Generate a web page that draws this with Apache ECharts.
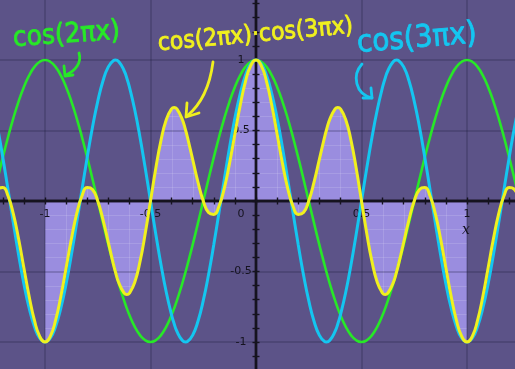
<!DOCTYPE html>
<html>
<head>
<meta charset="utf-8">
<script src="https://cdn.jsdelivr.net/npm/echarts@6/dist/echarts.min.js"></script>
<style>html,body{margin:0;padding:0;background:#5c5388;}#c{width:515px;height:369px;}</style>
</head>
<body>
<div id="c"></div>
<script>
// x positions (step 0.025, plus the extremum points of the curves)
var xs = [-1.25,-1.225,-1.2,-1.175,-1.15,-1.125,-1.1,-1.075,-1.05,-1.025,
-1,-0.975,-0.95,-0.925,-0.9,-0.875,-0.85,-0.825,-0.8,-0.775,
-0.75,-0.725,-0.7,-0.675,-0.6667,-0.65,-0.625,-0.6121,-0.6,-0.575,-0.55,-0.525,
-0.5,-0.475,-0.45,-0.425,-0.4,-0.3879,-0.375,-0.35,-0.3333,-0.325,-0.3,-0.275,
-0.25,-0.225,-0.2,-0.175,-0.15,-0.125,-0.1,-0.075,-0.05,-0.025,
0,0.025,0.05,0.075,0.1,0.125,0.15,0.175,0.2,0.225,
0.25,0.275,0.3,0.325,0.3333,0.35,0.375,0.3879,0.4,0.425,0.45,0.475,
0.5,0.525,0.55,0.575,0.6,0.6121,0.625,0.65,0.6667,0.675,0.7,0.725,
0.75,0.775,0.8,0.825,0.85,0.875,0.9,0.925,0.95,0.975,
1,1.025,1.05,1.075,1.1,1.125,1.15,1.175,1.2,1.225,1.25];

// cos(2πx)
var cos2 = [0,.1564,.309,.454,.5878,.7071,.809,.891,.9511,.9877,
1,.9877,.9511,.891,.809,.7071,.5878,.454,.309,.1564,
0,-.1564,-.309,-.454,-.5,-.5878,-.7071,-.7617,-.809,-.891,-.9511,-.9877,
-1,-.9877,-.9511,-.891,-.809,-.7617,-.7071,-.5878,-.5,-.454,-.309,-.1564,
0,.1564,.309,.454,.5878,.7071,.809,.891,.9511,.9877,
1,.9877,.9511,.891,.809,.7071,.5878,.454,.309,.1564,
0,-.1564,-.309,-.454,-.5,-.5878,-.7071,-.7617,-.809,-.891,-.9511,-.9877,
-1,-.9877,-.9511,-.891,-.809,-.7617,-.7071,-.5878,-.5,-.454,-.309,-.1564,
0,.1564,.309,.454,.5878,.7071,.809,.891,.9511,.9877,
1,.9877,.9511,.891,.809,.7071,.5878,.454,.309,.1564,0];

// cos(3πx)
var cos3 = [.7071,.5225,.309,.0785,-.1564,-.3827,-.5878,-.7604,-.891,-.9724,
-1,-.9724,-.891,-.7604,-.5878,-.3827,-.1564,.0785,.309,.5225,
.7071,.8526,.9511,.9969,1,.9877,.9239,.8707,.809,.6494,.454,.2334,
0,-.2334,-.454,-.6494,-.809,-.8707,-.9239,-.9877,-1,-.9969,-.9511,-.8526,
-.7071,-.5225,-.309,-.0785,.1564,.3827,.5878,.7604,.891,.9724,
1,.9724,.891,.7604,.5878,.3827,.1564,-.0785,-.309,-.5225,
-.7071,-.8526,-.9511,-.9969,-1,-.9877,-.9239,-.8707,-.809,-.6494,-.454,-.2334,
0,.2334,.454,.6494,.809,.8707,.9239,.9877,1,.9969,.9511,.8526,
.7071,.5225,.309,.0785,-.1564,-.3827,-.5878,-.7604,-.891,-.9724,
-1,-.9724,-.891,-.7604,-.5878,-.3827,-.1564,.0785,.309,.5225,.7071];

// cos(2πx)·cos(3πx)
var prod = [0,.0817,.0955,.0356,-.0919,-.2706,-.4755,-.6775,-.8474,-.9604,
-1,-.9604,-.8474,-.6775,-.4755,-.2706,-.0919,.0356,.0955,.0817,
0,-.1333,-.2939,-.4526,-.5,-.5806,-.6533,-.6632,-.6545,-.5786,-.4318,-.2305,
0,.2305,.4318,.5786,.6545,.6632,.6533,.5806,.5,.4526,.2939,.1333,
0,-.0817,-.0955,-.0356,.0919,.2706,.4755,.6775,.8474,.9604,
1,.9604,.8474,.6775,.4755,.2706,.0919,-.0356,-.0955,-.0817,
0,.1333,.2939,.4526,.5,.5806,.6533,.6632,.6545,.5786,.4318,.2305,
0,-.2305,-.4318,-.5786,-.6545,-.6632,-.6533,-.5806,-.5,-.4526,-.2939,-.1333,
0,.0817,.0955,.0356,-.0919,-.2706,-.4755,-.6775,-.8474,-.9604,
-1,-.9604,-.8474,-.6775,-.4755,-.2706,-.0919,.0356,.0955,.0817,0];

var shadeFrom = -1, shadeTo = 1;
var xTickLabels = ['-1','-0.5','0','0.5','1'];
var yTickLabels = ['-1','-0.5','0.5','1'];
var minorStep = 0.1;

function pairs(ys){ return xs.map(function(x,i){ return [x, ys[i]]; }); }
var shadeData = pairs(prod).filter(function(p){ return p[0] >= shadeFrom && p[0] <= shadeTo; });

var AX = '#15131f';
var labelFont = '"DejaVu Sans", sans-serif';
function fmtNum(v){ return String(Math.round(v*10)/10); }

// grid: axis range -1.5..1.5 both ways, extending beyond the canvas
var G = {left:-60.5, right:-57.5, top:-10.5, bottom:-43.5};
var gridW = 515 - G.left - G.right, gridH = 369 - G.top - G.bottom;
var xZeroFromBottom = gridH / 2, yZeroFromLeft = gridW / 2;

var axisCommon = {
  type:'value', min:-1.5, max:1.5, interval:0.5, z:1.5,
  axisTick:{show:true, length:3.5, lineStyle:{color:AX, width:1.4}},
  minorTick:{show:true, splitNumber:5, length:3.5, lineStyle:{color:AX, width:1.4}},
  minorSplitLine:{show:false}
};

var chart = echarts.init(document.getElementById('c'), null, {renderer:'canvas'});
chart.setOption({
  animation:false,
  backgroundColor:'#5c5388',
  grid:{left:G.left, right:G.right, top:G.top, bottom:G.bottom, containLabel:false, outerBoundsMode:'none'},
  xAxis:[
    Object.assign({}, axisCommon, {
      position:'bottom', offset:-xZeroFromBottom,
      axisLine:{show:true, onZero:false, lineStyle:{color:AX, width:2.4}},
      splitLine:{show:true, lineStyle:{color:'rgba(30,25,60,0.3)', width:1.5}},
      axisLabel:{show:true, margin:8, color:AX, fontSize:11, fontFamily:labelFont,
        formatter:function(v){ var s=fmtNum(v); if(s==='0') return '{o|0}'; return xTickLabels.indexOf(s)>=0 ? s : ''; },
        rich:{o:{padding:[0,30,0,0], color:AX, fontSize:11, fontFamily:labelFont}}}
    }),
    Object.assign({}, axisCommon, {
      position:'top', offset:-(gridH - xZeroFromBottom),
      axisLine:{show:true, onZero:false, lineStyle:{color:AX, width:2.4}},
      splitLine:{show:false},
      axisLabel:{show:false}
    })
  ],
  yAxis:[
    Object.assign({}, axisCommon, {
      position:'left', offset:-yZeroFromLeft,
      axisLine:{show:true, onZero:false, lineStyle:{color:AX, width:2.4}},
      splitLine:{show:true, lineStyle:{color:'rgba(30,25,60,0.3)', width:1.5}},
      axisLabel:{show:true, margin:15, align:'center', color:AX, fontSize:11, fontFamily:labelFont,
        padding:[6,0,0,0],
        formatter:function(v){ var s=fmtNum(v); return yTickLabels.indexOf(s)>=0 ? s : ''; }}
    }),
    Object.assign({}, axisCommon, {
      position:'right', offset:-(gridW - yZeroFromLeft),
      axisLine:{show:true, onZero:false, lineStyle:{color:AX, width:2.4}},
      splitLine:{show:false},
      axisLabel:{show:false}
    })
  ],
  series:[
    {type:'line', name:'shade', data:shadeData, smooth:true, symbol:'none', z:1,
     xAxisIndex:0, yAxisIndex:0,
     lineStyle:{width:0, opacity:0}, areaStyle:{color:'#9a8ddf', opacity:1}},
    {type:'line', name:'cos(2πx)', data:pairs(cos2), smooth:true, symbol:'none', z:3,
     xAxisIndex:0, yAxisIndex:0, lineStyle:{color:'#27e827', width:2.6}},
    {type:'line', name:'cos(3πx)', data:pairs(cos3), smooth:true, symbol:'none', z:4,
     xAxisIndex:0, yAxisIndex:0, lineStyle:{color:'#14c6f0', width:3}},
    {type:'line', name:'cos(2πx)·cos(3πx)', data:pairs(prod), smooth:true, symbol:'none', z:5,
     xAxisIndex:0, yAxisIndex:0, lineStyle:{color:'#f0f01e', width:3}}
  ],
  graphic:[
    {type:'text', x:466, y:230, z:10, style:{text:'x', fill:AX, font:'italic 14px "DejaVu Serif", serif', align:'center', verticalAlign:'middle'}},
    {type:'text', x:13, y:39, rotation:0.07, scaleY:1.1, z:10, style:{text:'cos(2πx)', fill:'#27e827', stroke:'#27e827', lineWidth:0.8, font:'25px "DejaVu Sans", sans-serif', align:'left', verticalAlign:'middle'}},
    {type:'text', x:158, y:44, rotation:0.09, scaleY:1.1, z:10, style:{text:'cos(2πx)·cos(3πx)', fill:'#f0f01e', stroke:'#f0f01e', lineWidth:0.8, font:'22px "DejaVu Sans", sans-serif', align:'left', verticalAlign:'middle'}},
    {type:'text', x:357, y:44, rotation:0.08, scaleY:1.1, z:10, style:{text:'cos(3πx)', fill:'#14c6f0', stroke:'#14c6f0', lineWidth:0.8, font:'28px "DejaVu Sans", sans-serif', align:'left', verticalAlign:'middle'}},
    {type:'bezierCurve', z:10, shape:{x1:79,y1:53,cpx1:82,cpy1:63,cpx2:75,cpy2:71,x2:66,y2:75}, style:{stroke:'#27e827', lineWidth:2.8, fill:null, lineCap:'round'}},
    {type:'polyline', z:10, shape:{points:[[64,66],[65,76],[73,75]]}, style:{stroke:'#27e827', lineWidth:2.8, fill:null, lineCap:'round', lineJoin:'round'}},
    {type:'bezierCurve', z:10, shape:{x1:213,y1:62,cpx1:210,cpy1:85,cpx2:203,cpy2:103,x2:187,y2:116}, style:{stroke:'#f0f01e', lineWidth:2.8, fill:null, lineCap:'round'}},
    {type:'polyline', z:10, shape:{points:[[187,103],[186,117],[199,113]]}, style:{stroke:'#f0f01e', lineWidth:2.8, fill:null, lineCap:'round', lineJoin:'round'}},
    {type:'bezierCurve', z:10, shape:{x1:362,y1:64,cpx1:352,cpy1:75,cpx2:355,cpy2:94,x2:372,y2:98}, style:{stroke:'#14c6f0', lineWidth:2.8, fill:null, lineCap:'round'}},
    {type:'polyline', z:10, shape:{points:[[371,88],[372,98],[363,98]]}, style:{stroke:'#14c6f0', lineWidth:2.8, fill:null, lineCap:'round', lineJoin:'round'}}
  ]
});

// faint minor (0.1) grid visible only inside the shaded region:
// a full-size canvas pattern whose lines are placed with the chart's own scales
(function(){
  var cv = document.createElement('canvas');
  cv.width = 515; cv.height = 369;
  var ctx = cv.getContext('2d');
  ctx.strokeStyle = 'rgba(255,255,255,0.13)';
  ctx.lineWidth = 1;
  for (var i = -15; i <= 15; i++) {
    if (i % 5 === 0) continue;
    var v = i * minorStep;
    var px = chart.convertToPixel({xAxisIndex:0}, v);
    var py = chart.convertToPixel({yAxisIndex:0}, v);
    ctx.beginPath(); ctx.moveTo(Math.round(px)+0.5, 0); ctx.lineTo(Math.round(px)+0.5, 369); ctx.stroke();
    ctx.beginPath(); ctx.moveTo(0, Math.round(py)+0.5); ctx.lineTo(515, Math.round(py)+0.5); ctx.stroke();
  }
  chart.setOption({series:[{}, {}, {}, {},
    {type:'line', name:'shadeGrid', data:shadeData, smooth:true, symbol:'none', z:1.2,
     xAxisIndex:0, yAxisIndex:0, silent:true,
     lineStyle:{width:0, opacity:0}, areaStyle:{color:{image:cv, repeat:'no-repeat'}, opacity:1}}
  ]});
})();
</script>
</body>
</html>
